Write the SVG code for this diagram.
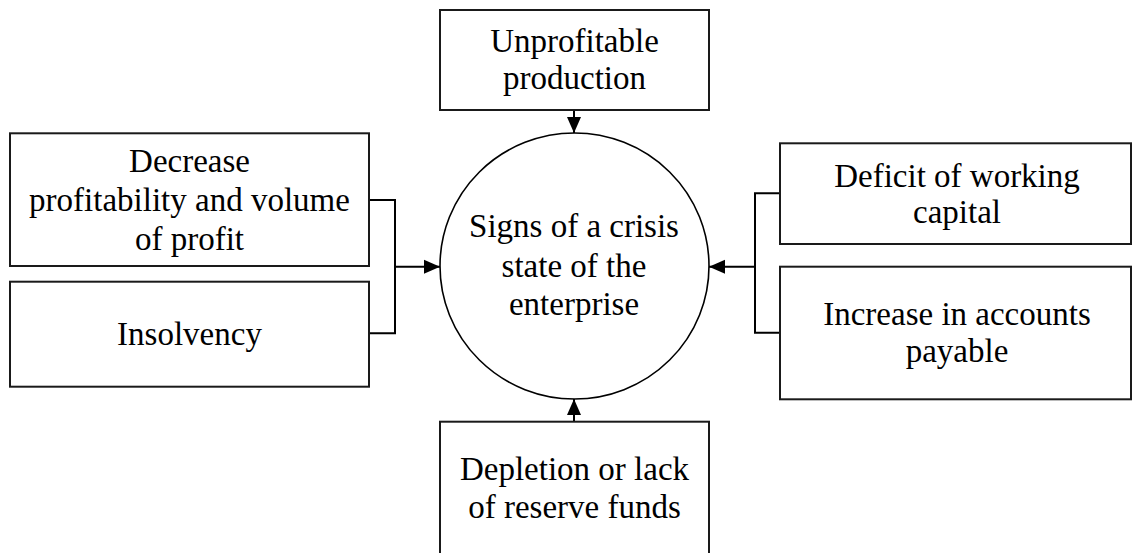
<svg xmlns="http://www.w3.org/2000/svg" width="1132" height="553" viewBox="0 0 1132 553">
<style>
.box{fill:#fff;stroke:#1a1a1a;stroke-width:2}
.ell{fill:#fff;stroke:#000;stroke-width:1.6}
.lbl{font-family:"Liberation Serif","Times New Roman",serif;font-size:33px;fill:#000;text-anchor:middle}
.con{fill:none;stroke:#000;stroke-width:2}
</style>
<defs>
<marker id="ah" markerUnits="userSpaceOnUse" viewBox="0 0 16 16" refX="16" refY="8" markerWidth="16" markerHeight="16" orient="auto">
<path d="M0,1 L16,8 L0,15 Z" fill="#000"/>
</marker>
</defs>
<rect width="1132" height="553" fill="#fff"/>
<g id="connectors">
<path class="con" d="M369,200 H395 V333.3 H369"/>
<path class="con" d="M395,266.7 H440" marker-end="url(#ah)"/>
<path class="con" d="M780,193.3 H755 V332.7 H780"/>
<path class="con" d="M755,266.7 H709" marker-end="url(#ah)"/>
<path class="con" d="M574,110 V133" marker-end="url(#ah)"/>
<path class="con" d="M574,421.7 V399" marker-end="url(#ah)"/>
</g>
<g id="center">
<ellipse class="ell" cx="574.5" cy="266" rx="134.5" ry="133"/>
<text class="lbl" x="574" y="237.3">Signs of a crisis</text>
<text class="lbl" x="574" y="276.7">state of the</text>
<text class="lbl" x="574" y="315">enterprise</text>
</g>
<g id="top">
<rect class="box" x="440" y="10" width="269" height="100"/>
<text class="lbl" x="574.5" y="51.7">Unprofitable</text>
<text class="lbl" x="574.5" y="89.3">production</text>
</g>
<g id="left1">
<rect class="box" x="10" y="133.3" width="359" height="132.7"/>
<text class="lbl" x="189.5" y="171.7">Decrease</text>
<text class="lbl" x="189.5" y="211">profitability and volume</text>
<text class="lbl" x="189.5" y="250">of profit</text>
</g>
<g id="left2">
<rect class="box" x="10" y="281.7" width="359" height="105"/>
<text class="lbl" x="189.5" y="345">Insolvency</text>
</g>
<g id="right1">
<rect class="box" x="780" y="143.3" width="351" height="100.7"/>
<text class="lbl" x="957" y="186.7">Deficit of working</text>
<text class="lbl" x="957" y="223.3">capital</text>
</g>
<g id="right2">
<rect class="box" x="780" y="266.7" width="351" height="132.6"/>
<text class="lbl" x="957" y="325">Increase in accounts</text>
<text class="lbl" x="957" y="361.7">payable</text>
</g>
<g id="bottom">
<rect class="box" x="440" y="421.7" width="269" height="160"/>
<text class="lbl" x="574.5" y="480">Depletion or lack</text>
<text class="lbl" x="574.5" y="518.3">of reserve funds</text>
</g>
</svg>
